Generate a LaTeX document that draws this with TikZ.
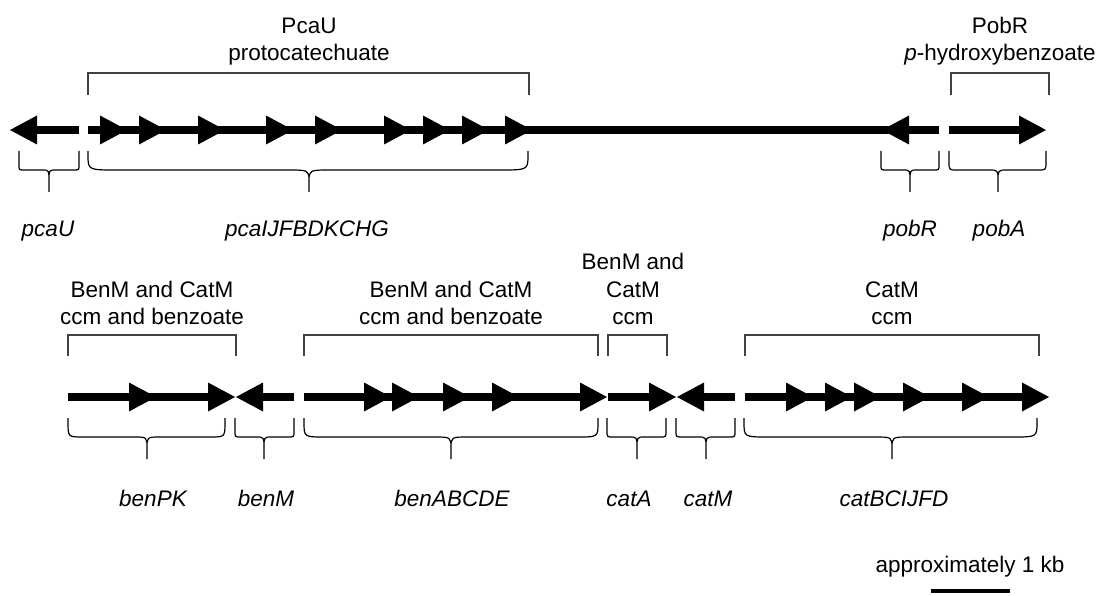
\documentclass[tikz,border=0pt]{standalone}
\usepackage{fontspec}
\setmainfont{Liberation Sans}
\tikzset{
  gene/.style={line width=8pt, draw=black},
  headfill/.style={fill=black},
  bracketl/.style={line width=1.3pt, draw=black!75},
  bracel/.style={line width=1.2pt, draw=black},
  lbl/.style={font=\fontsize{22.5}{27}\selectfont, anchor=base, inner sep=0pt},
  glbl/.style={font=\fontsize{22.5}{27}\selectfont\itshape, anchor=base, inner sep=0pt},
  scalebar/.style={line width=4pt, draw=black}
}
% right-pointing head: base x, y
\newcommand\hR[2]{\fill[headfill] (#1,{#2-14.5}) -- ({#1+27},#2) -- (#1,{#2+14.5}) -- cycle;}
% left-pointing head: base x, y
\newcommand\hL[2]{\fill[headfill] (#1,{#2-14.5}) -- ({#1-27},#2) -- (#1,{#2+14.5}) -- cycle;}
% brace: x1, x2, xtip, ymid, r, rc
\newcommand\gbrace[6]{\draw[bracel] (#1,{#4-19}) -- (#1,{#4-min(#5,15)}) .. controls (#1,#4) .. ({#1+#5},#4) -- ({#3-#6},#4) .. controls (#3,#4) .. (#3,{#4+11}) -- (#3,{#4+22}) -- (#3,{#4+11}) .. controls (#3,#4) .. ({#3+#6},#4) -- ({#2-#5},#4) .. controls (#2,#4) .. (#2,{#4-min(#5,15)}) -- (#2,{#4-19});}
% bracket: x1, x2, ytop, ybottom
\newcommand\gbracket[4]{\draw[bracketl] (#1,#4) -- (#1,#3) -- (#2,#3) -- (#2,#4);}
\begin{document}
\begin{tikzpicture}[x=1pt,y=-1pt]
\useasboundingbox (0,0) rectangle (1102,596);

% ---------- top row ----------
\draw[gene] (35,130) -- (79,130);
\hL{37}{130}
\draw[gene] (88,130) -- (939,130);
\foreach \b in {100,139,198,266,315,384,423,462,505} {\hR{\b}{130}}
\hL{909}{130}
\draw[gene] (949,130) -- (1020,130);
\hR{1019}{130}

\gbracket{88}{529}{73}{95}
\gbracket{951}{1049}{73}{95}

\gbrace{19}{79}{49}{170}{5}{7}
\gbrace{88}{528}{309}{170}{29}{23}
\gbrace{881}{939}{910}{170}{5}{7}
\gbrace{949}{1046}{998}{170}{8}{9}

\node[lbl] (pcau1) at (309,34) {PcaU};
\node[lbl] (pcau2) at (309,61) {protocatechuate};
\node[lbl] (pobr1) at (1000,34) {PobR};
\node[lbl] (pobr2) at (1000,61) {\textit{p}-hydroxybenzoate};

\node[glbl] (gpcaU) at (48,236) {pcaU};
\node[glbl] (gpcaI) at (307,236) {pcaIJFBDKCHG};
\node[glbl] (gpobR) at (910,236) {pobR};
\node[glbl] (gpobA) at (999,236) {pobA};

% ---------- bottom row ----------
\draw[gene] (68,397) -- (208,397);
\hR{129}{397}
\hR{208}{397}
\hL{263}{397}
\draw[gene] (262,397) -- (294,397);
\draw[gene] (304,397) -- (581,397);
\foreach \b in {364,392,443,492,580} {\hR{\b}{397}}
\draw[gene] (608,397) -- (650,397);
\hR{649}{397}
\hL{704}{397}
\draw[gene] (703,397) -- (735,397);
\draw[gene] (745,397) -- (1023,397);
\foreach \b in {786,825,854,903,962,1022} {\hR{\b}{397}}

\gbracket{68}{236}{335}{356}
\gbracket{304}{598}{335}{356}
\gbracket{608}{667}{335}{356}
\gbracket{745}{1039}{335}{356}

\gbrace{68}{225}{147}{437}{15}{13}
\gbrace{235}{294}{264}{437}{6}{8}
\gbrace{304}{598}{451}{437}{20}{18}
\gbrace{607}{666}{637}{437}{6}{8}
\gbrace{676}{735}{706}{437}{6}{8}
\gbrace{744}{1037}{892}{437}{24}{18}

\node[lbl] (r1a) at (152,297) {BenM and CatM};
\node[lbl] (r1b) at (152,324) {ccm and benzoate};
\node[lbl] (r2a) at (451,297) {BenM and CatM};
\node[lbl] (r2b) at (451,324) {ccm and benzoate};
\node[lbl] (r3a) at (633,269) {BenM and};
\node[lbl] (r3b) at (633,297) {CatM};
\node[lbl] (r3c) at (633,324) {ccm};
\node[lbl] (r4a) at (892,297) {CatM};
\node[lbl] (r4b) at (892,324) {ccm};

\node[glbl] (gbenPK) at (153,506) {benPK};
\node[glbl] (gbenM) at (266,506) {benM};
\node[glbl] (gbenA) at (452,506) {benABCDE};
\node[glbl] (gcatA) at (629,506) {catA};
\node[glbl] (gcatM) at (708,506) {catM};
\node[glbl] (gcatB) at (894,506) {catBCIJFD};

% ---------- scale ----------
\node[lbl] (scl) at (970,572) {approximately 1 kb};
\coordinate (sbl) at (931,591);
\coordinate (sbr) at (1010,591);
\draw[scalebar] (sbl) -- (sbr);
\end{tikzpicture}
\end{document}
